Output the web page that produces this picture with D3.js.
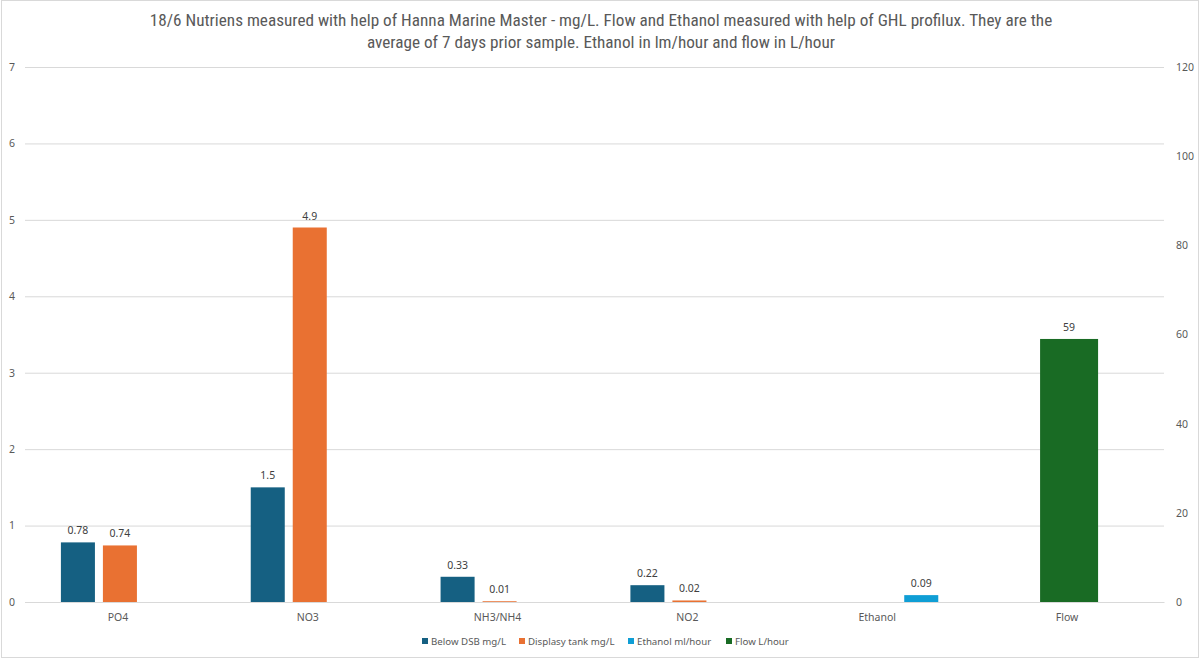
<!DOCTYPE html>
<html><head><meta charset="utf-8">
<script src="https://cdn.jsdelivr.net/npm/d3@7"></script>
<style>
html,body{margin:0;padding:0;background:#fff;}
svg{display:block;}
text{font-family:"Noto Sans",Roboto,"Liberation Sans",sans-serif;}
</style></head>
<body>
<svg id="chart" width="1200" height="660"></svg>
<script>
const categories = ["PO4","NO3","NH3/NH4","NO2","Ethanol","Flow"];
const belowDSB = [0.78, 1.5, 0.33, 0.22, null, null];
const displayTank = [0.74, 4.9, 0.01, 0.02, null, null];
const ethanol = [null, null, null, null, 0.09, null];
const flow = [null, null, null, null, null, 59];
const leftTicks = [0,1,2,3,4,5,6,7];
const rightTicks = [0,20,40,60,80,100,120];
const titleLines = ["18/6 Nutriens measured with help of Hanna Marine Master - mg/L. Flow and Ethanol measured with help of GHL profilux. They are the",
                    "average of 7 days prior sample. Ethanol in lm/hour and flow in L/hour"];
const primarySeries = [
  {name:"Below DSB mg/L", values: belowDSB, color:"#156082"},
  {name:"Displasy tank mg/L", values: displayTank, color:"#E97132"},
  {name:"Ethanol ml/hour", values: ethanol, color:"#0F9ED5"}
];
const secondarySeries = [{name:"Flow L/hour", values: flow, color:"#196B24"}];
const legendItems = primarySeries.concat(secondarySeries);

const svg = d3.select("#chart");
svg.append("rect").attr("x",1.5).attr("y",0.5).attr("width",1197).attr("height",657)
  .attr("fill","#fff").attr("stroke","#d9d9d9").attr("stroke-width",1);

const plot = {left:25, right:1164, top:67, bottom:602};

const x = d3.scaleBand().domain(categories).range([plot.left, plot.right]).paddingInner(0).paddingOuter(0);
const yL = d3.scaleLinear().domain([0,7]).range([plot.bottom, plot.top]);
const yR = d3.scaleLinear().domain([0,120]).range([plot.bottom, plot.top]);

const catW = x.bandwidth();
const xSub = d3.scaleBand().domain(primarySeries.map(s=>s.name))
  .range([catW/2 - 63, catW/2 + 63]).paddingInner(0.19).paddingOuter(0.095);

svg.append("g").selectAll("text").data(titleLines).join("text")
  .attr("x",601).attr("y",(d,i)=>26+i*22).attr("text-anchor","middle")
  .attr("font-size",17.2).attr("fill","#595959")
  .style("font-family","'Liberation Sans Narrow','Roboto Condensed','Open Sans',sans-serif")
  .text(d=>d);

svg.append("g").call(d3.axisLeft(yL).tickValues(leftTicks).tickSize(-(plot.right-plot.left)).tickFormat(""))
  .attr("transform",`translate(${plot.left},0)`)
  .call(g=>g.select(".domain").remove())
  .call(g=>g.selectAll("line").attr("stroke","#d9d9d9").attr("stroke-width",1));

svg.append("g").attr("transform",`translate(${plot.left},0)`)
  .call(d3.axisLeft(yL).tickValues(leftTicks).tickSize(0).tickPadding(8).tickFormat(d3.format("d")))
  .call(g=>g.select(".domain").remove())
  .call(g=>g.selectAll("text").attr("font-size",10.5).attr("fill","#595959").attr("text-anchor","middle").attr("x",-13));

svg.append("g").attr("transform",`translate(${plot.right},0)`)
  .call(d3.axisRight(yR).tickValues(rightTicks).tickSize(0).tickPadding(12).tickFormat(d3.format("d")))
  .call(g=>g.select(".domain").remove())
  .call(g=>g.selectAll("text").attr("font-size",10.5).attr("fill","#595959"));

const gBars = svg.append("g");
primarySeries.forEach(s=>{
  const data = categories.map((c,i)=>({c, v:s.values[i]})).filter(d=>d.v!=null);
  gBars.selectAll(null).data(data).join("rect")
    .attr("x",d=>x(d.c)+xSub(s.name)).attr("width",xSub.bandwidth())
    .attr("y",d=>yL(d.v)).attr("height",d=>yL(0)-yL(d.v)).attr("fill",s.color);
  gBars.selectAll(null).data(data).join("text")
    .attr("x",d=>x(d.c)+xSub(s.name)+xSub.bandwidth()/2).attr("y",d=>yL(d.v)-8)
    .attr("text-anchor","middle").attr("font-size",10.5).attr("fill","#404040")
    .text(d=>d.v);
});

const secW = 58;
secondarySeries.forEach(s=>{
  const data = categories.map((c,i)=>({c, v:s.values[i]})).filter(d=>d.v!=null);
  gBars.selectAll(null).data(data).join("rect")
    .attr("x",d=>x(d.c)+catW/2-secW/2).attr("width",secW)
    .attr("y",d=>yR(d.v)).attr("height",d=>yR(0)-yR(d.v)).attr("fill",s.color);
  gBars.selectAll(null).data(data).join("text")
    .attr("x",d=>x(d.c)+catW/2).attr("y",d=>yR(d.v)-8)
    .attr("text-anchor","middle").attr("font-size",10.5).attr("fill","#404040")
    .text(d=>d.v);
});

svg.append("g").attr("transform",`translate(0,${plot.bottom})`)
  .call(d3.axisBottom(x).tickSize(0).tickPadding(12))
  .call(g=>g.select(".domain").attr("stroke","#d9d9d9"))
  .call(g=>g.selectAll("text").attr("font-size",10.5).attr("fill","#595959").attr("dx",-2));

const legendX = [422, 519, 628, 726];
const lg = svg.append("g");
legendItems.forEach((s,i)=>{
  lg.append("rect").attr("x",legendX[i]).attr("y",638).attr("width",6).attr("height",6).attr("fill",s.color);
  lg.append("text").attr("x",legendX[i]+9).attr("y",645).attr("font-size",9.7).attr("fill","#595959").text(s.name);
});
</script>
</body></html>
